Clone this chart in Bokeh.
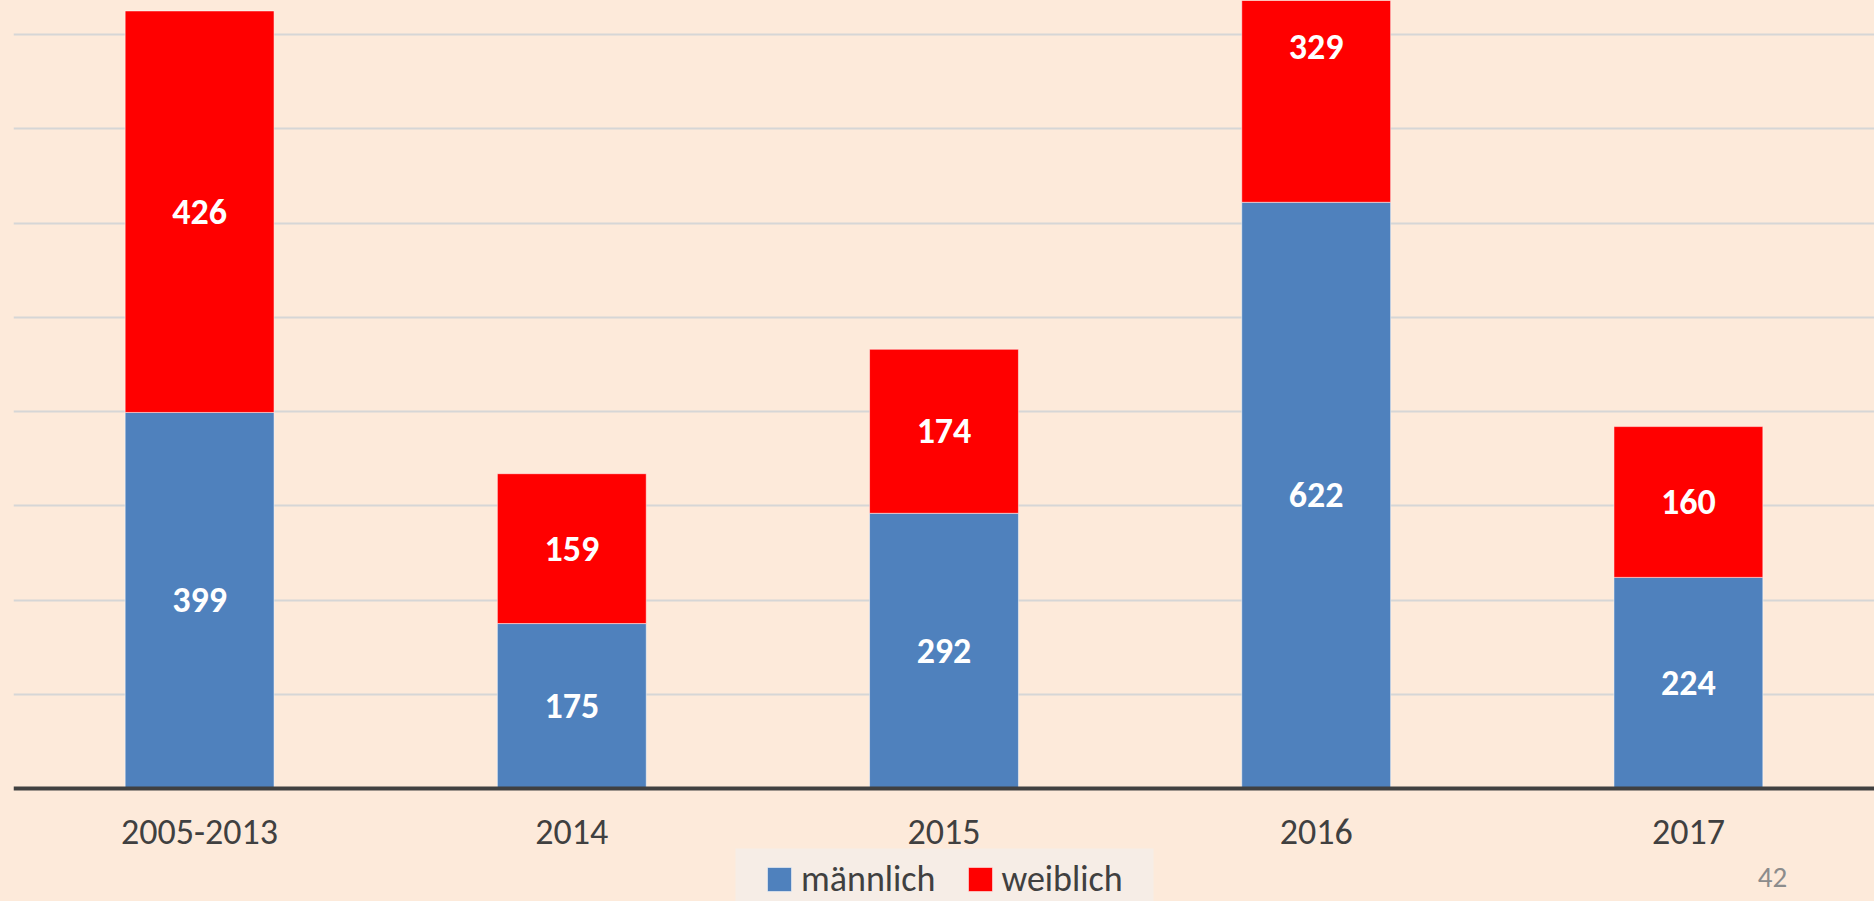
from bokeh.plotting import figure
from bokeh.models import (ColumnDataSource, Range1d, FactorRange, FixedTicker, Legend,
                          LegendItem, LabelSet, Label, BoxAnnotation)
from bokeh.core.properties import value
from bokeh.embed import file_html
from bokeh.resources import INLINE

categories = ["2005-2013", "2014", "2015", "2016", "2017"]
maennlich = [399, 175, 292, 622, 224]
weiblich = [426, 159, 174, 329, 160]
grid_ticks = [100, 200, 300, 400, 500, 600, 700, 800]
page_number = "42"

BG = "#FDEADA"
BLUE = "#4F81BD"
RED = "#FF0000"
TXT = "#404040"
LEG_BG = "#F6EDE6"
FONT = "Carlito"

src = ColumnDataSource(dict(
    cat=categories,
    maennlich=maennlich,
    weiblich=weiblich,
    m_mid=[m / 2 for m in maennlich],
    w_mid=[m + w / 2 for m, w in zip(maennlich, weiblich)],
    m_txt=[str(v) for v in maennlich],
    w_txt=[str(v) for v in weiblich],
))

p = figure(width=1874, height=901, x_range=FactorRange(*categories),
           y_range=Range1d(-119.9, 836.1), output_backend="svg", toolbar_location=None,
           min_border_left=13, min_border_right=0, min_border_top=0, min_border_bottom=0)
p.background_fill_color = BG
p.border_fill_color = BG
p.outline_line_color = None

rs = p.vbar_stack(["maennlich", "weiblich"], x="cat", width=0.4, source=src,
                  color=[BLUE, RED], line_color="white", line_alpha=0.5, line_width=1)

p.ygrid.ticker = FixedTicker(ticks=grid_ticks)
p.ygrid.grid_line_color = "#D6D6D6"
p.ygrid.grid_line_width = 2
p.xgrid.grid_line_color = None
p.yaxis.visible = False

xa = p.xaxis[0]
xa.fixed_location = 0
xa.axis_line_color = TXT
xa.axis_line_width = 4
xa.major_tick_line_color = None
xa.minor_tick_line_color = None
xa.major_tick_out = 0
xa.major_label_standoff = 32
xa.major_label_text_font = FONT
xa.major_label_text_font_size = "36px"
xa.major_label_text_color = TXT

for ycol, tcol in (("m_mid", "m_txt"), ("w_mid", "w_txt")):
    p.add_layout(LabelSet(x="cat", y=ycol, text=tcol, source=src, text_align="center",
                          text_baseline="middle", text_color="white", text_font=value(FONT),
                          text_font_style="bold", text_font_size="36px"))

# legend background box (screen units, relative to the plot frame)
p.add_layout(BoxAnnotation(left=722, right=1140, bottom=0, top=53,
                           left_units="screen", right_units="screen",
                           bottom_units="screen", top_units="screen",
                           fill_color=LEG_BG, fill_alpha=1.0, line_color=None))

legend = Legend(items=[LegendItem(label="männlich", renderers=[rs[0]]),
                       LegendItem(label="weiblich", renderers=[rs[1]])],
                orientation="horizontal", location=(751, 0),
                glyph_width=30, glyph_height=30, label_standoff=7, spacing=29,
                padding=8, margin=0,
                label_text_font=FONT, label_text_font_size="36px", label_text_color=TXT,
                background_fill_alpha=0.0, border_line_color=None)
p.add_layout(legend, "center")

p.add_layout(Label(x=1759, y=24, x_units="screen", y_units="screen", text=page_number,
                   text_align="center", text_baseline="middle", text_font=FONT,
                   text_font_size="29px", text_color="#8C8C8C"))

html = file_html(p, INLINE)
html = html.replace("<head>", "<head><style>html,body{background:%s;}</style>" % BG, 1)
open("out.html", "w").write(html)
